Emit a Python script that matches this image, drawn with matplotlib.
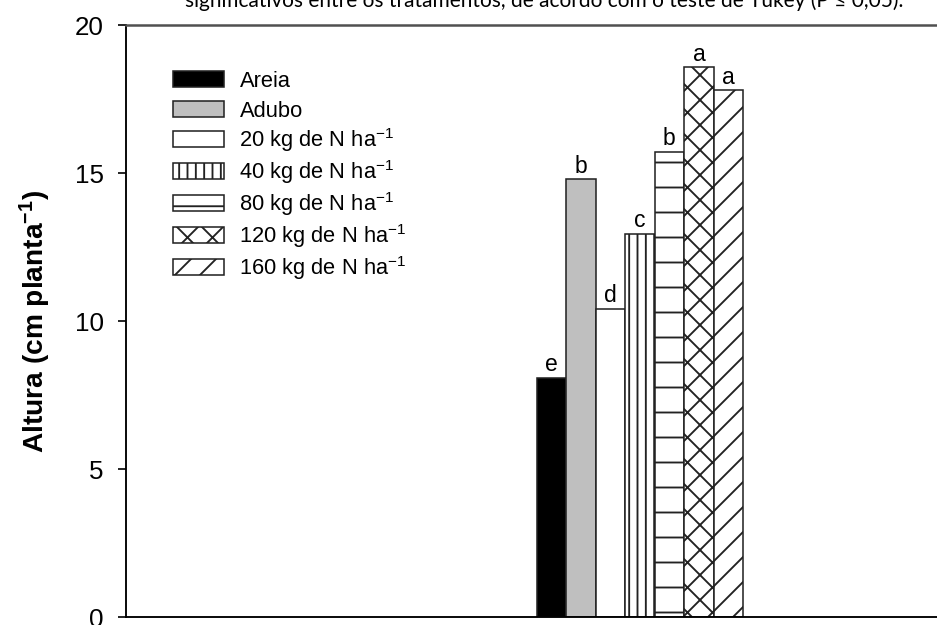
import numpy as np
import matplotlib
matplotlib.use("Agg")
from matplotlib import pyplot as plt
from matplotlib.patches import Rectangle
from matplotlib.legend_handler import HandlerPatch

# treatments, bar heights and Tukey letters
tratamentos = ["Areia", "Adubo", "20 kg de N ha$^{-1}$", "40 kg de N ha$^{-1}$",
               "80 kg de N ha$^{-1}$", "120 kg de N ha$^{-1}$", "160 kg de N ha$^{-1}$"]
altura = [8.1, 14.8, 10.42, 12.95, 15.72, 18.58, 17.8]
letras = ["e", "b", "d", "c", "b", "a", "a"]
cores = ["black", "#bfbfbf", "white", "white", "white", "white", "white"]
hachuras = [None, None, None, "|||", "-", "xx", "//"]
yticks = [0, 5, 10, 15, 20]

plt.rcParams["font.family"] = ["Liberation Sans", "DejaVu Sans"]
plt.rcParams["mathtext.fontset"] = "custom"
plt.rcParams["mathtext.rm"] = "Liberation Sans"
plt.rcParams["mathtext.it"] = "Liberation Sans:italic"
plt.rcParams["mathtext.bf"] = "Liberation Sans:bold"
plt.rcParams["hatch.linewidth"] = 0.9


class CaixaFixa(HandlerPatch):
    # same row height for every legend entry, with or without superscript
    def legend_artist(self, legend, orig_handle, fontsize, handlebox):
        handlebox.ydescent = 0.24 * fontsize
        handlebox.height = 1.38 * fontsize
        p = super().legend_artist(legend, orig_handle, fontsize, handlebox)
        if p.get_hatch() == "-":
            # finer lines so the small legend box still shows one
            p.set_hatch("--")
        return p


def caixa(legend, orig_handle, xdescent, ydescent, width, height, fontsize):
    h = 0.72 * fontsize
    return Rectangle((-xdescent, -ydescent + (height - h) / 2 - 0.08 * fontsize), width, h)


dpi = 150
fig = plt.figure(figsize=(937 / dpi, 625 / dpi), dpi=dpi)
ax = fig.add_axes([125.7 / 937, 7.7 / 625, 1 - 125.7 / 937, 592 / 625])

x = np.arange(len(altura))
barras = []
for i in range(len(altura)):
    b = ax.bar(x[i], altura[i], width=1.0, color=cores[i], edgecolor="#222222",
               linewidth=0.75, hatch=hachuras[i])
    barras.append(b[0])
    ax.text(x[i], altura[i] + 0.22, letras[i], ha="center", va="baseline", fontsize=11)

ax.set_xlim(-14.43, 13.07)
ax.set_ylim(0, 20)
ax.set_yticks(yticks)
ax.set_xticks([])
ax.tick_params(axis="y", direction="out", length=3.9, width=0.8, pad=6.7, labelsize=12.5)
ax.spines["right"].set_visible(False)
ax.spines["top"].set_color("#505050")
ax.spines["top"].set_linewidth(1.2)
ax.spines["left"].set_linewidth(0.9)
ax.spines["bottom"].set_linewidth(0.9)

fig.text(35 / 937, 1 - 321 / 625, r"Altura (cm planta$^{\mathbf{-1}}$)", rotation=90,
         ha="center", va="center", fontsize=13.5, fontweight="bold")

ax.legend(barras, tratamentos, loc="upper left", bbox_to_anchor=(0.058, 0.938), frameon=False,
          fontsize=10.5, handlelength=2.35, handletextpad=0.7,
          labelspacing=0.0, borderpad=0, borderaxespad=0,
          handler_map={Rectangle: CaixaFixa(patch_func=caixa)})

fig.text(903 / 937, 1 - 7 / 625,
         "significativos entre os tratamentos, de acordo com o teste de Tukey (P \u2264 0,05).",
         ha="right", va="baseline", fontsize=10, family=["Lato", "DejaVu Sans"])

fig.savefig("out.png", dpi=dpi)
